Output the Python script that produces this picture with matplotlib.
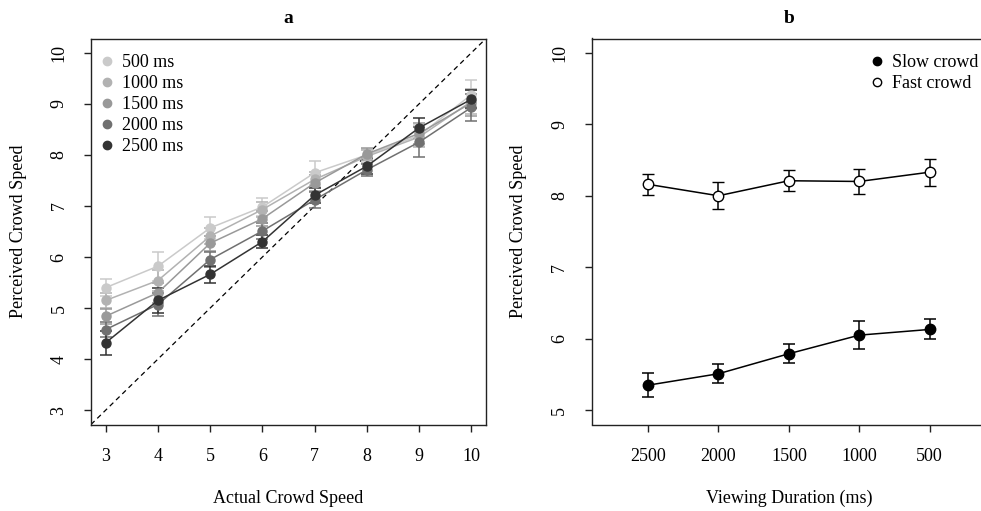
import matplotlib
matplotlib.use("Agg")
import matplotlib.pyplot as plt
import numpy as np

plt.rcParams['font.family'] = ['Liberation Serif', 'DejaVu Serif']

# ---- Panel a data ----
speeds = [3, 4, 5, 6, 7, 8, 9, 10]
durations_a = ["500 ms", "1000 ms", "1500 ms", "2000 ms", "2500 ms"]
perc_500 = [5.40, 5.82, 6.57, 6.98, 7.65, 8.00, 8.38, 9.18]
perc_1000 = [5.15, 5.54, 6.41, 6.93, 7.52, 7.97, 8.35, 9.05]
perc_1500 = [4.84, 5.30, 6.27, 6.75, 7.45, 8.02, 8.42, 9.02]
perc_2000 = [4.58, 5.07, 5.95, 6.51, 7.12, 7.71, 8.25, 8.93]
perc_2500 = [4.32, 5.15, 5.66, 6.30, 7.21, 7.78, 8.53, 9.09]
se_500 = [0.17, 0.28, 0.22, 0.18, 0.24, 0.12, 0.20, 0.28]
se_1000 = [0.15, 0.20, 0.15, 0.15, 0.15, 0.12, 0.20, 0.25]
se_1500 = [0.15, 0.20, 0.15, 0.15, 0.15, 0.12, 0.20, 0.25]
se_2000 = [0.15, 0.22, 0.15, 0.15, 0.15, 0.12, 0.30, 0.26]
se_2500 = [0.23, 0.25, 0.17, 0.13, 0.15, 0.15, 0.20, 0.18]
colors_a = ["#cacaca", "#b2b2b2", "#999999", "#707070", "#333333"]

# ---- Panel b data ----
view_labels = ["2500", "2000", "1500", "1000", "500"]
slow_mean = [5.35, 5.51, 5.79, 6.05, 6.13]
slow_se = [0.17, 0.13, 0.13, 0.20, 0.14]
fast_mean = [8.16, 8.00, 8.21, 8.20, 8.33]
fast_se = [0.15, 0.19, 0.15, 0.17, 0.19]

W, H = 981, 511
fig = plt.figure(figsize=(W / 100, H / 100), dpi=100)

def ax_rect(l, r, t, b):
    return [l / W, 1 - b / H, (r - l) / W, (b - t) / H]

AT, AB = 38.5, 424.5
axa = fig.add_axes(ax_rect(91, 486, AT, AB))
axb = fig.add_axes(ax_rect(591.7, 986, AT, AB))

fs = 13
for ax in (axa, axb):
    for s in ax.spines.values():
        s.set_linewidth(1.0)
        s.set_color("#222222")
    ax.tick_params(direction="out", length=5, width=1.0, color="#222222",
                   labelsize=fs, pad=12)

leg_kw = dict(frameon=False, fontsize=fs, handletextpad=0.5, handlelength=0.6,
              labelspacing=0.22, borderpad=0.0, borderaxespad=0.0, loc="upper left")
leg_top = (AB - 54) / (AB - AT)

# Panel a
means_a = [perc_500, perc_1000, perc_1500, perc_2000, perc_2500]
ses_a = [se_500, se_1000, se_1500, se_2000, se_2500]
for lab, m, s, c in zip(durations_a, means_a, ses_a, colors_a):
    axa.errorbar(speeds, m, yerr=s, color=c, marker="o", markersize=6.5,
                 lw=1.1, capsize=4.3, elinewidth=1.1, capthick=1.1, zorder=3)
    axa.plot([], [], "o", color=c, markersize=6, label=lab)
axa.set_xlim(2.72, 10.28)
axa.set_ylim(2.72, 10.28)
axa.plot([0, 1], [0, 1], transform=axa.transAxes, ls=(0, (4, 3)), color="black", lw=0.9, zorder=2)
axa.set_xticks(speeds)
axa.set_yticks(range(3, 11))
for lab in axa.get_yticklabels():
    lab.set_rotation(90)
    lab.set_va("center")
axa.set_xlabel("Actual Crowd Speed", fontsize=fs, labelpad=18)
axa.set_ylabel("Perceived Crowd Speed", fontsize=fs, labelpad=17)
axa.set_title("a", fontsize=fs + 1, fontweight="bold", pad=11)
axa.legend(bbox_to_anchor=((102 - 91) / 395, leg_top), **leg_kw)

# Panel b
xb = np.arange(1, len(view_labels) + 1)
axb.errorbar(xb, slow_mean, yerr=slow_se, color="black", marker="o",
             markersize=7.5, mfc="black", mec="black", lw=1.1, capsize=4.3,
             elinewidth=1.1, capthick=1.1, zorder=3)
axb.errorbar(xb, fast_mean, yerr=fast_se, color="black", marker="o",
             markersize=7.5, mfc="white", mec="black", mew=1.0, lw=1.1,
             capsize=4.3, elinewidth=1.1, capthick=1.1, zorder=3)
axb.plot([], [], "o", color="black", markersize=6, label="Slow crowd")
axb.plot([], [], "o", mfc="white", mec="black", markersize=6, label="Fast crowd")
axb.set_xlim(0.2, 5.8)
axb.set_ylim(4.8, 10.2)
axb.set_xticks(xb)
axb.set_xticklabels(view_labels)
axb.set_yticks(range(5, 11))
for lab in axb.get_yticklabels():
    lab.set_rotation(90)
    lab.set_va("center")
axb.set_xlabel("Viewing Duration (ms)", fontsize=fs, labelpad=18)
axb.set_ylabel("Perceived Crowd Speed", fontsize=fs, labelpad=17)
axb.set_title("b", fontsize=fs + 1, fontweight="bold", pad=11)
axb.legend(bbox_to_anchor=((872 - 591.7) / (986 - 591.7), leg_top), **leg_kw)

fig.savefig("out.png", dpi=100)
